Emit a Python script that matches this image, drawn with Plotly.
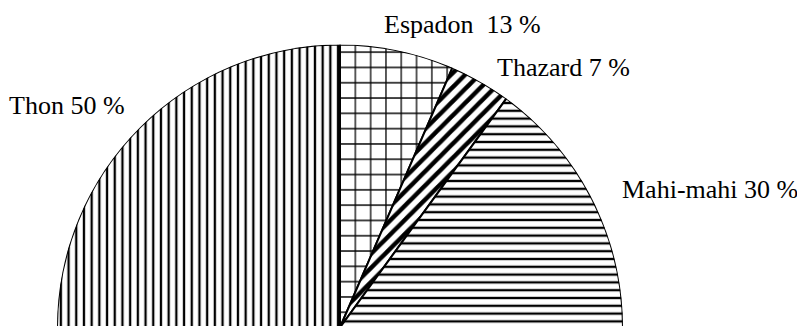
import plotly.graph_objects as go

especes = ["Thon", "Espadon", "Thazard", "Mahi-mahi"]
parts = [50, 13, 7, 30]
etiquettes = ["Thon 50 %", "Espadon  13 %", "Thazard 7 %", "Mahi-mahi 30 %"]

motifs = ["|", "+", "/", "-"]
tailles = [7.7, 15.3, 10, 7.8]
solidites = [0.3, 0.16, 0.45, 0.3]

# demi-camembert : 100 % = 180 degres
total = sum(parts)
largeurs = [p / total * 180 for p in parts]
centres = []
debut = 0
for w in largeurs:
    centres.append(debut + w / 2)
    debut += w

fig = go.Figure()
fig.add_trace(go.Barpolar(
    r=[1] * len(parts),
    theta=centres,
    width=largeurs,
    text=especes,
    marker=dict(
        color="white",
        line=dict(color="black", width=2),
        pattern=dict(shape=motifs, size=tailles, solidity=solidites,
                     fgcolor="black", bgcolor="white", fgopacity=1,
                     fillmode="overlay"),
    ),
    hoverinfo="text",
))

# position des etiquettes (x gauche, milieu du texte, en pixels)
pos_x = [0, 375, 488, 613]
pos_y = [97, 16, 59, 181]
W, H = 805, 326
for txt, px, py in zip(etiquettes, pos_x, pos_y):
    fig.add_annotation(x=px / W, y=1 - py / H, xref="paper", yref="paper",
                       text=txt, showarrow=False, xanchor="left", yanchor="middle",
                       borderpad=0,
                       font=dict(family="Liberation Serif", size=26, color="black"))

fig.update_layout(
    width=W, height=H,
    margin=dict(l=0, r=0, t=0, b=0),
    paper_bgcolor="white",
    showlegend=False,
    polar=dict(
        domain=dict(x=[49 / W, 615 / W], y=[6.5 / H, 289.5 / H]),
        sector=[0, 180],
        bgcolor="white",
        hole=0,
        angularaxis=dict(visible=False, direction="clockwise", rotation=180,
                         thetaunit="degrees"),
        radialaxis=dict(visible=False, range=[0, 1]),
    ),
)

fig.write_html("out.html")
